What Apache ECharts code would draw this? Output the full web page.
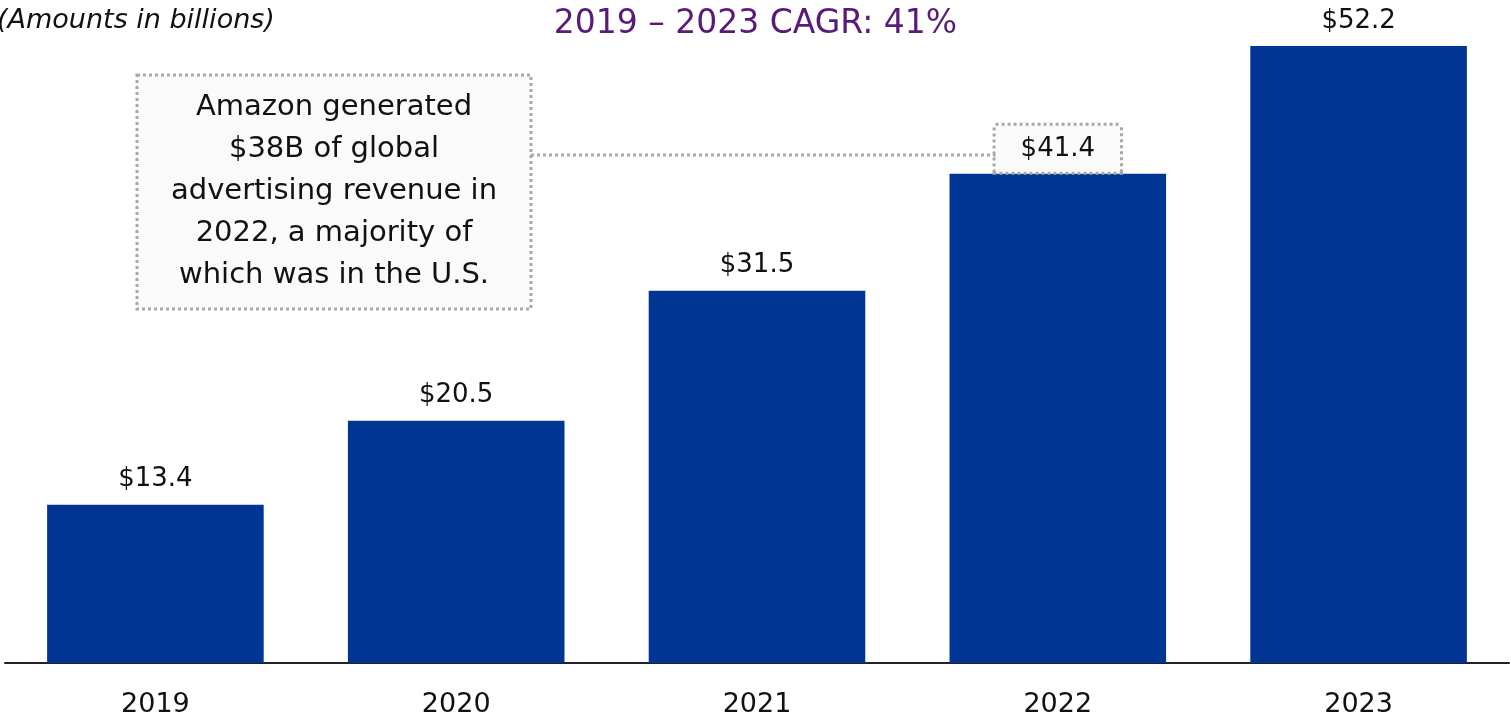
<!DOCTYPE html>
<html>
<head>
<meta charset="utf-8">
<script src="https://cdn.jsdelivr.net/npm/echarts@6/dist/echarts.min.js"></script>
<style>
html, body { margin: 0; padding: 0; background: #fff; }
#chart { width: 1511px; height: 719px; }
</style>
</head>
<body>
<div id="chart"></div>
<script>
// data
var years = ["2019", "2020", "2021", "2022", "2023"];
var revenue = [13.4, 20.5, 31.5, 41.4, 52.2];
var noteLines = ["Amazon generated", "$38B of global", "advertising revenue in", "2022, a majority of", "which was in the U.S."];

var font = "DejaVu Sans";
var myChart = echarts.init(document.getElementById("chart"));

myChart.setOption({
    animation: false,
    textStyle: { fontFamily: font },
    title: {
        text: "2019 \u2013 2023 CAGR: 41%",
        left: "center",
        top: 3,
        textStyle: { color: "#5a1a7a", fontSize: 33, fontWeight: "normal", fontFamily: font }
    },
    grid: { left: 5, right: 2, top: 13, bottom: 56 },
    xAxis: {
        type: "category",
        data: years,
        axisLine: { lineStyle: { color: "#222", width: 2 } },
        axisTick: { show: false },
        axisLabel: { color: "#111", fontSize: 27, margin: 28, fontFamily: font }
    },
    yAxis: {
        type: "value",
        min: 0,
        max: 55,
        show: false,
        splitLine: { show: false }
    },
    series: [{
        type: "bar",
        data: revenue.map(function (v, i) {
            var item = { value: v };
            if (years[i] === "2022") {
                item.label = {
                    borderColor: "#a8a8a8",
                    borderWidth: 3,
                    borderType: [3, 3],
                    backgroundColor: "#fafafa",
                    padding: [11, 25, 9, 25],
                    distance: 2
                };
            }
            return item;
        }),
        barWidth: "72%",
        itemStyle: { color: "#003594" },
        label: {
            show: true,
            position: "top",
            distance: 12,
            color: "#111",
            fontSize: 26,
            fontFamily: font,
            formatter: function (p) { return "$" + p.value.toFixed(1); }
        }
    }],
    graphic: [
        {
            type: "text",
            left: -3,
            top: 7,
            style: { text: "(Amounts in billions)", fill: "#111", font: "italic 27px " + font }
        },
        {
            type: "line",
            shape: { x1: 531, y1: 155, x2: 997, y2: 155 },
            style: { stroke: "#a8a8a8", lineWidth: 3, lineDash: [3, 3] },
            z: 1
        },
        {
            type: "rect",
            shape: { x: 137, y: 75, width: 394, height: 234 },
            style: { fill: "#fafafa", stroke: "#a8a8a8", lineWidth: 3, lineDash: [3, 3] },
            z: 2
        },
        {
            type: "text",
            x: 334,
            y: 86,
            z: 3,
            style: {
                text: noteLines.join("\n"),
                fill: "#111",
                font: "29px " + font,
                align: "center",
                verticalAlign: "top",
                lineHeight: 42
            }
        }
    ]
});
window.onresize = function () { myChart.resize(); };
</script>
</body>
</html>
